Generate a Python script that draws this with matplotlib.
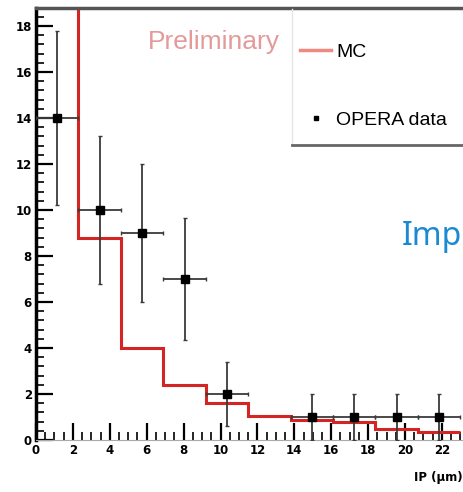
import numpy as np
import matplotlib.pyplot as plt
from matplotlib.lines import Line2D
from matplotlib.ticker import MultipleLocator

# MC histogram (bin edges in um, expected entries)
mc_edges = [0, 2.3, 4.6, 6.9, 9.2, 11.5, 13.8, 16.1, 18.4, 20.7, 23.0]
mc_counts = [21, 8.8, 4.0, 2.4, 1.6, 1.05, 0.87, 0.8, 0.5, 0.35]

# OPERA data points
data_x = [1.15, 3.45, 5.75, 8.05, 10.35, 14.95, 17.25, 19.55, 21.85]
data_y = [14, 10, 9, 7, 2, 1, 1, 1, 1]
data_yerr = [3.8, 3.2, 3.0, 2.65, 1.4, 1.0, 1.0, 1.0, 1.0]
data_xerr = [1.15] * len(data_x)

W, H = 463, 492
fig = plt.figure(figsize=(W / 100, H / 100), dpi=100)
fig.patch.set_facecolor('white')

# axes: x=0 at px 36, 18.45 px per um ; y=0 at px 440, 23 px per unit
x0, y0 = 36, 440
xmax, ymax = 23.3, 18.78
ax = fig.add_axes([x0 / W, (H - y0) / H, xmax * 18.45 / W, ymax * 23 / H])

ax.stairs(mc_counts, mc_edges, baseline=None, color='#d42424', lw=2.2, zorder=2)
ax.errorbar(data_x, data_y, yerr=data_yerr, xerr=data_xerr, fmt='s', color='black',
            ms=5.5, ecolor='#3a3a3a', elinewidth=1.3, capsize=1.5, zorder=3)

ax.set_xlim(0, xmax)
ax.set_ylim(0, ymax)
ax.xaxis.set_major_locator(MultipleLocator(2))
ax.xaxis.set_minor_locator(MultipleLocator(0.5))
ax.yaxis.set_major_locator(MultipleLocator(2))
ax.yaxis.set_minor_locator(MultipleLocator(0.4))
ax.tick_params(which='both', direction='in', top=False, right=False)
ax.tick_params(which='major', length=12, width=1.6, labelsize=8.5, pad=3)
ax.tick_params(which='minor', length=6, width=1.2)
for lab in ax.get_xticklabels() + ax.get_yticklabels():
    lab.set_fontweight('bold')
ax.spines['left'].set_linewidth(2.5)
ax.spines['bottom'].set_linewidth(0.8)
ax.spines['bottom'].set_color('#aaaaaa')
ax.spines['top'].set_linewidth(2.5)
ax.spines['top'].set_color('#555555')
ax.spines['right'].set_visible(False)

ax.text(148 / W, 1 - 42 / H, 'Preliminary', transform=fig.transFigure,
        color='#e39a9a', fontsize=19, va='center', ha='left',
        family=['Liberation Sans Narrow', 'Liberation Sans', 'DejaVu Sans'])

# legend (ROOT-style box: light left edge, dark shadow at bottom)
handles = [Line2D([], [], color='#f08a80', lw=2.5),
           Line2D([], [], marker='s', color='black', ls='none', ms=3.5)]
leg = ax.legend(handles, ['MC', 'OPERA data'], loc='upper left',
                bbox_to_anchor=(281 / W, 1 - 24 / H), bbox_transform=fig.transFigure,
                frameon=False,
                prop={'family': ['Liberation Sans Narrow', 'Liberation Sans'], 'size': 14},
                labelspacing=2.6, handlelength=1.55, handletextpad=0.3,
                borderpad=1.0, borderaxespad=0)
fig.add_artist(Line2D([292 / W, 292 / W], [1 - 9 / H, 1 - 144 / H],
                      transform=fig.transFigure, color='#e6e6e6', lw=1))
fig.add_artist(Line2D([292 / W, 1], [1 - 145 / H, 1 - 145 / H],
                      transform=fig.transFigure, color='#666666', lw=2))

fig.text(402 / W, 1 - 236 / H, 'Imp', color='#1b8ad3', fontsize=23,
         va='center', ha='left', family='Noto Sans')
fig.text(1.0, 1 - 478 / H, 'IP (μm)', fontsize=8.5, fontweight='bold',
         va='center', ha='right')

fig.savefig('out.png', dpi=100)
